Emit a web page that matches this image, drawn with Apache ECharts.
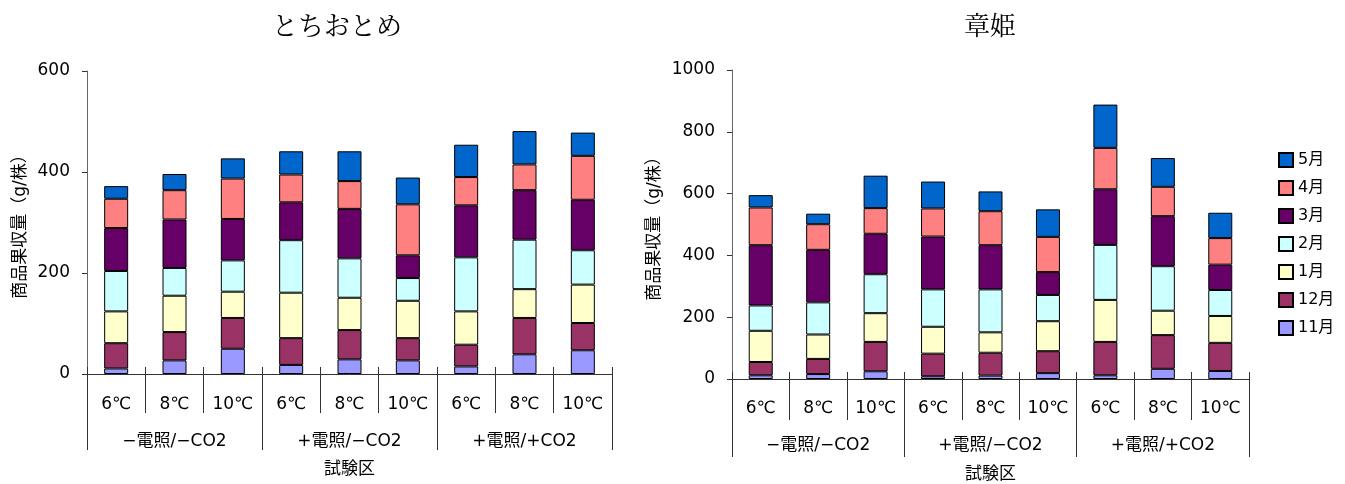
<!DOCTYPE html>
<html><head><meta charset="utf-8">
<script src="https://cdn.jsdelivr.net/npm/echarts@6/dist/echarts.min.js"></script>
<style>html,body{margin:0;padding:0;background:#fff}#c{width:1345px;height:484px}</style>
</head><body><div id="c"></div>
<script>
const categories = ["6℃","8℃","10℃","6℃","8℃","10℃","6℃","8℃","10℃"];
const groups = ["−電照/−CO2","+電照/−CO2","+電照/+CO2"];
const months = ["11月","12月","1月","2月","3月","4月","5月"];
const legendOrder = ["5月","4月","3月","2月","1月","12月","11月"];
const colors = ["#9999FF","#993366","#FFFFCC","#CCFFFF","#660066","#FF8080","#0066CC"];

// とちおとめ (g/株), one array per month across the 9 treatments
const tochi_11 = [11, 27, 50, 18, 29, 27, 15, 39, 47];
const tochi_12 = [50, 56, 61, 53, 58, 44, 43, 72, 54];
const tochi_01 = [63, 72, 52, 90, 64, 74, 66, 57, 76];
const tochi_02 = [80, 55, 62, 104, 78, 45, 107, 98, 68];
const tochi_03 = [85, 96, 82, 75, 98, 45, 103, 98, 100];
const tochi_04 = [58, 58, 80, 55, 55, 101, 56, 51, 87];
const tochi_05 = [25, 32, 40, 46, 59, 53, 64, 66, 46];

// 章姫 (g/株)
const akihime_11 = [12, 16, 25, 9, 11, 19, 12, 33, 26];
const akihime_12 = [43, 49, 95, 73, 74, 71, 108, 109, 91];
const akihime_01 = [101, 79, 93, 87, 66, 97, 136, 79, 87];
const akihime_02 = [82, 104, 126, 121, 139, 85, 178, 144, 84];
const akihime_03 = [195, 170, 131, 171, 143, 74, 180, 162, 82];
const akihime_04 = [122, 83, 83, 91, 110, 114, 134, 95, 86];
const akihime_05 = [40, 34, 105, 87, 64, 89, 140, 93, 82];

const leftTicks = [0, 200, 400, 600];
const rightTicks = [0, 200, 400, 600, 800, 1000];

const tochi = [tochi_11, tochi_12, tochi_01, tochi_02, tochi_03, tochi_04, tochi_05];
const akihime = [akihime_11, akihime_12, akihime_01, akihime_02, akihime_03, akihime_04, akihime_05];

const FONT = "'DejaVu Sans','Noto Sans CJK JP',sans-serif";
const LINE = '#333';

function xAxes(grid, tickLen, sepLen, lblMargin, grpMargin, nameGap) {
  return [
    { type:'category', gridIndex:grid, data:categories, position:'bottom', offset:0,
      axisLine:{show:true,lineStyle:{color:LINE}},
      axisTick:{show:true,interval:0,length:tickLen,lineStyle:{color:LINE}},
      axisLabel:{interval:0,margin:lblMargin,color:'#000',fontSize:17,fontFamily:FONT}},
    { type:'category', gridIndex:grid, data:groups, position:'bottom', offset:0,
      axisLine:{show:false},
      axisTick:{show:true,interval:0,length:sepLen,lineStyle:{color:LINE}},
      axisLabel:{interval:0,margin:grpMargin,color:'#000',fontSize:17,fontFamily:FONT},
      name:'試験区', nameLocation:'middle', nameGap:nameGap,
      nameTextStyle:{color:'#000',fontSize:17,fontFamily:FONT}},
    { type:'category', gridIndex:grid, data:categories, position:'bottom', offset:0,
      axisLine:{show:false},
      axisTick:{show:true,interval:0,inside:true,length:7,lineStyle:{color:LINE}},
      axisLabel:{show:false}}
  ];
}
function yAxis(grid, ticks, nameGap) {
  return { type:'value', gridIndex:grid, min:ticks[0], max:ticks[ticks.length-1], interval:ticks[1]-ticks[0],
    axisLine:{show:true,lineStyle:{color:'#666'}},
    axisTick:{show:true,length:5,lineStyle:{color:LINE}},
    splitLine:{show:false},
    axisLabel:{margin:17,color:'#000',fontSize:17,fontFamily:FONT,formatter:(v)=>String(v)},
    name:'商品果収量（g/株）', nameLocation:'middle', nameRotate:90, nameGap:nameGap,
    nameTextStyle:{color:'#000',fontSize:17,fontFamily:FONT}};
}
function seriesFor(data, xIdx, yIdx, stack) {
  return months.map((m,i)=>({
    name:m, type:'bar', stack:stack, xAxisIndex:xIdx, yAxisIndex:yIdx,
    data:data[i], barWidth:24,
    itemStyle:{color:colors[i], borderColor:'#000', borderWidth:1},
    emphasis:{disabled:true}, animation:false
  }));
}

const chart = echarts.init(document.getElementById('c'), null, {renderer:'canvas'});
chart.setOption({
  animation:false,
  grid:[
    {left:87, width:525, top:71, height:303, containLabel:false, outerBoundsMode:'none'},
    {left:732, width:517, top:70, height:309, containLabel:false, outerBoundsMode:'none'}
  ],
  xAxis:[...xAxes(0,39,76,22,59,87), ...xAxes(1,41,78,21,58,87)],
  yAxis:[yAxis(0,leftTicks,58), yAxis(1,rightTicks,69)],
  legend:{orient:'vertical', left:1273, top:147, itemWidth:14, itemHeight:14, itemGap:12,
    icon:'rect', data:legendOrder, textStyle:{color:'#000',fontSize:16,fontFamily:FONT},
    selectedMode:false},
  graphic:[
    {type:'text', x:337, y:25, style:{text:'とちおとめ', fill:'#000', font:"26px 'Noto Serif CJK JP','Noto Sans CJK JP',serif", textAlign:'center', textVerticalAlign:'middle'}},
    {type:'text', x:990, y:25, style:{text:'章姫', fill:'#000', font:"26px 'Noto Serif CJK JP','Noto Sans CJK JP',serif", textAlign:'center', textVerticalAlign:'middle'}}
  ],
  series:[...seriesFor(tochi,0,0,'L'), ...seriesFor(akihime,3,1,'R')]
});
</script></body></html>
